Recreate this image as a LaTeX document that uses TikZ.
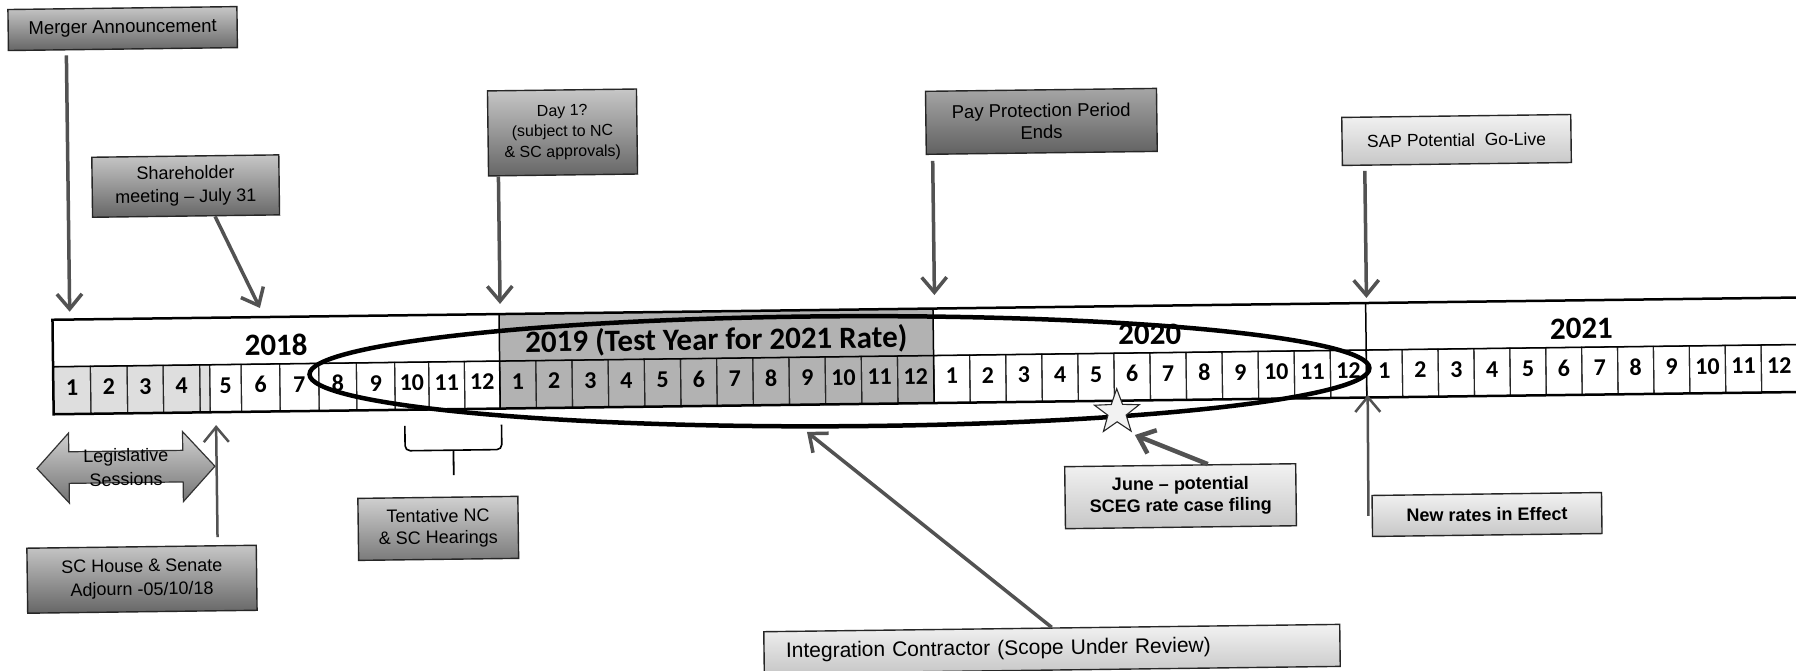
\documentclass[tikz,border=0pt]{standalone}
\usepackage{fontspec}
\setmainfont{Liberation Sans}
\newfontfamily\calfont{Carlito}
\usetikzlibrary{arrows.meta,shapes.geometric}
\begin{document}
\begin{tikzpicture}[x=1pt,y=-1pt,
  dbox/.style={draw=black!85, line width=1.4pt, top color=black!22, bottom color=black!60, align=center, inner sep=0pt, font=\fontsize{18}{22}\selectfont},
  lbox/.style={draw=black!85, line width=1.4pt, top color=black!5, bottom color=black!22, align=center, inner sep=0pt, font=\fontsize{18}{22}\selectfont},
  arr/.style={draw=black!68, line width=3.5pt, -{Straight Barb[length=15pt,width=25pt]}},
  cell/.style={draw=black!85, line width=1.1pt},
  mon/.style={font=\calfont\bfseries\fontsize{24}{24}\selectfont, anchor=base, inner sep=0pt},
  yr/.style={font=\calfont\bfseries\fontsize{31}{31}\selectfont, anchor=base, inner sep=0pt},
]
\fill[white] (0,0) rectangle (1796,671);
\useasboundingbox (0,0) rectangle (1796,671);
\begin{scope}[rotate around={0.73:(898,335)}, transform shape]
 % ---- timeline fills
 \fill[black!13] (52.7,356) rectangle (209.3,403.5);
 \fill[black!30] (499.3,309) rectangle (933.3,403.5);
 % ---- 2018 months
 \foreach \a/\b/\n in {52.7/90/1, 90/126.7/2, 126.7/162.7/3, 162.7/199.3/4, 209.3/240.7/5, 240.7/279.3/6, 279.3/318.3/7, 318.3/356/8, 356/394.3/9, 394.3/428.3/10, 428.3/464/11, 464/499.3/12}{
   \draw[cell] (\a,356) rectangle (\b,403.5);
   \node[mon] (ma\n) at ({(\a+\b)/2},384.5) {\n};
 }
 \draw[cell] (199.3,356) rectangle (209.3,403.5);
 % ---- 2019 months
 \foreach \n [evaluate=\n as \a using 499.3+(\n-1)*36.167, evaluate=\n as \b using 499.3+\n*36.167] in {1,...,12}{
   \draw[cell] (\a,356) rectangle (\b,403.5);
   \node[mon] (mb\n) at ({(\a+\b)/2},384.5) {\n};
 }
 % ---- 2020 months
 \foreach \n [evaluate=\n as \a using 933.3+(\n-1)*36.06, evaluate=\n as \b using 933.3+\n*36.06] in {1,...,12}{
   \draw[cell] (\a,356) rectangle (\b,403.5);
   \node[mon] (mc\n) at ({(\a+\b)/2},384.5) {\n};
 }
 % ---- 2021 months
 \foreach \n [evaluate=\n as \a using 1366+(\n-1)*35.9, evaluate=\n as \b using 1366+\n*35.9] in {1,...,12}{
   \draw[cell] (\a,356) rectangle (\b,403.5);
   \node[mon] (md\n) at ({(\a+\b)/2},384.5) {\n};
 }
 % ---- timeline frame
 \draw[line width=1.5pt] (52.7,356) -- (1805,356);
 \draw[line width=1.5pt] (499.3,309) -- (499.3,403.5);
 \draw[line width=1.5pt] (933.3,309) -- (933.3,403.5);
 \draw[line width=1.5pt] (1366,309) -- (1366,403.5);
 \draw[line width=2.5pt] (52.7,309) rectangle (1805,403.5);
 % ---- years
 \node[yr] (y18) at (276,347.5) {2018};
 \node[yr] (y19) at (716.3,347.5) {2019 (Test Year for 2021 Rate)};
 \node[yr] (y20) at (1149.7,347.5) {2020};
 \node[yr] (y21) at (1581.4,347.5) {2021};
 % ---- ellipse and star
 \draw[line width=4.5pt, rotate around={-0.4:(839,370.5)}] (839,370.5) ellipse [x radius=530pt, y radius=55pt];
 \node[star, star points=5, star point ratio=2.45, minimum size=47pt, inner sep=0pt, draw=black!85, line width=1.1pt, fill=black!5] (st) at (1116,415) {};
 % ---- brace
 \draw[line width=1.6pt, rounded corners=5pt] (403.7,419.5) -- (403.7,444.5) -- (500.4,444.5) -- (500.4,419.5);
 \draw[line width=1.8pt] (452,444.5) -- (452,469.5);
 % ---- legislative double arrow
 \draw[draw=black!80, line width=1.2pt, top color=black!18, bottom color=black!55] (35.3,457.5) -- (67.3,422.5) -- (67.3,441.2) -- (181.3,441.2) -- (181.3,422.5) -- (213.3,457.5) -- (181.3,492.5) -- (181.3,472.8) -- (67.3,472.8) -- (67.3,492.5) -- cycle;
 \node[align=center, inner sep=0pt, font=\fontsize{18}{24}\selectfont] (leg) at (124.3,457.5) {Legislative\\Sessions};
 % ---- boxes
 \node[dbox, minimum width=229pt, minimum height=41pt, font=\fontsize{18.5}{22}\selectfont] (mer) at (126.6,18.7) {Merger Announcement};
 \node[dbox, minimum width=187pt, minimum height=60pt, font=\fontsize{18}{23}\selectfont] (sh) at (187.6,177) {Shareholder\\meeting – July 31};
 \node[dbox, minimum width=149pt, minimum height=85pt, font=\fontsize{16}{20.5}\selectfont] (d1) at (565.1,128.2) {Day 1?\\(subject to NC\\\& SC approvals)};
 \node[dbox, top color=black!35, bottom color=black!62, minimum width=231pt, minimum height=63pt, font=\fontsize{18.5}{21.7}\selectfont] (pp) at (1044.1,123.2) {Pay Protection Period\\Ends};
 \node[lbox, minimum width=229pt, minimum height=48pt, font=\fontsize{17.5}{22}\selectfont] (sap) at (1459,147.1) {SAP Potential\ \ Go-Live};
 \node[lbox, minimum width=231pt, minimum height=62pt, font=\bfseries\fontsize{18}{21.6}\selectfont] (jn) at (1178.5,499.8) {June – potential\\SCEG rate case filing};
 \node[lbox, minimum width=229.5pt, minimum height=41pt, font=\bfseries\fontsize{18}{22}\selectfont] (nr) at (1484.7,522) {New rates in Effect};
 \node[lbox, minimum width=576pt, minimum height=42pt, font=\fontsize{21}{25}\selectfont, text width=532pt, align=left] (ic) at (1048,651) {Integration Contractor (Scope Under Review)};
 \node[dbox, minimum width=229.4pt, minimum height=65pt, font=\fontsize{18}{23.3}\selectfont] (sc) at (138.9,569.6) {SC House \& Senate\\Adjourn -05/10/18};
 \node[dbox, top color=black!18, bottom color=black!52, minimum width=160pt, minimum height=62pt, font=\fontsize{18}{21.6}\selectfont] (tn) at (435.8,522.5) {Tentative NC\\\& SC Hearings};
 % ---- arrow tips
 \coordinate (tMer) at (70,301.2);
 \coordinate (tSh) at (260.3,299.9);
 \coordinate (tD1) at (500.5,298.9);
 \coordinate (tPP) at (935,295.5);
 \coordinate (tSAP) at (1367,303.9);
 \coordinate (tIC) at (805.8,430.8);
 \coordinate (tJn) at (1133.7,438);
 \coordinate (tNR) at (1367,401);
 \coordinate (tSC) at (215,416.4);
 % ---- arrows
 \draw[arr, shorten <=5pt] (mer.south -| tMer) -- (tMer);
 \draw[arr] ([xshift=29pt]sh.south) -- (tSh);
 \draw[arr] (d1.south -| tD1) -- (tD1);
 \draw[arr, shorten <=6pt] (pp.south -| tPP) -- (tPP);
 \draw[arr, shorten <=5pt] (sap.south -| tSAP) -- (tSAP);
 \draw[arr] (ic.north) -- (tIC);
 \draw[arr, line width=4.5pt] ([xshift=27.7pt]jn.north) -- (tJn);
 \draw[arr, line width=2.5pt] ([xshift=-3pt]nr.west) -- (tNR);
 \draw[arr, line width=2.5pt, shorten <=8pt] (sc.north -| tSC) -- (tSC);
\end{scope}
\end{tikzpicture}
\end{document}
